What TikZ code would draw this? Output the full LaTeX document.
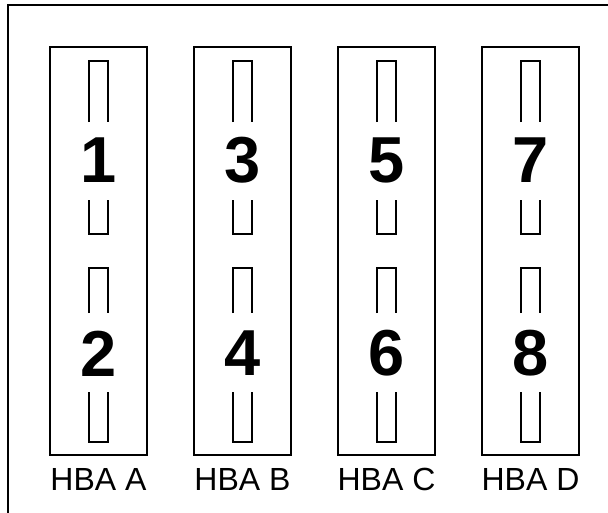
\documentclass[tikz,border=0pt]{standalone}
\usepackage{fontspec}
\setmainfont{Liberation Sans}
\begin{document}
\begin{tikzpicture}[x=1pt,y=-1pt,line width=1.4pt,card/.style={draw,minimum width=97pt,minimum height=408pt,inner sep=0},portnum/.style={font=\fontsize{65}{65}\selectfont\bfseries,inner sep=0},hba/.style={font=\fontsize{32}{32}\selectfont,inner sep=0}]
\useasboundingbox(0,0)rectangle(608,512);
\coordinate(bl)at(8,513);\coordinate(tl)at(8,5);\coordinate(tr)at(609,5);
\draw(bl)--(tl)--(tr);
\foreach \c/\n in {A/0,B/1,C/2,D/3}{
 \pgfmathsetmacro\x{98.5+144*\n}
 \pgfmathtruncatemacro\a{2*\n+1}\pgfmathtruncatemacro\b{2*\n+2}
 \node[card](card\c)at(\x,251){};
 \node[portnum](p\a)at(\x,160){\a};
 \node[portnum](p\b)at(\x,353.5){\b};
 \node[hba](l\c)at(\x,479.5){HBA \c};
 % slots
 \draw(\x-9.5,122)--(\x-9.5,61)--(\x+9.5,61)--(\x+9.5,122);
 \draw(\x-9.5,200)--(\x-9.5,234)--(\x+9.5,234)--(\x+9.5,200);
 \draw(\x-9.5,313)--(\x-9.5,268)--(\x+9.5,268)--(\x+9.5,313);
 \draw(\x-9.5,392)--(\x-9.5,442)--(\x+9.5,442)--(\x+9.5,392);
}
\end{tikzpicture}
\end{document}
